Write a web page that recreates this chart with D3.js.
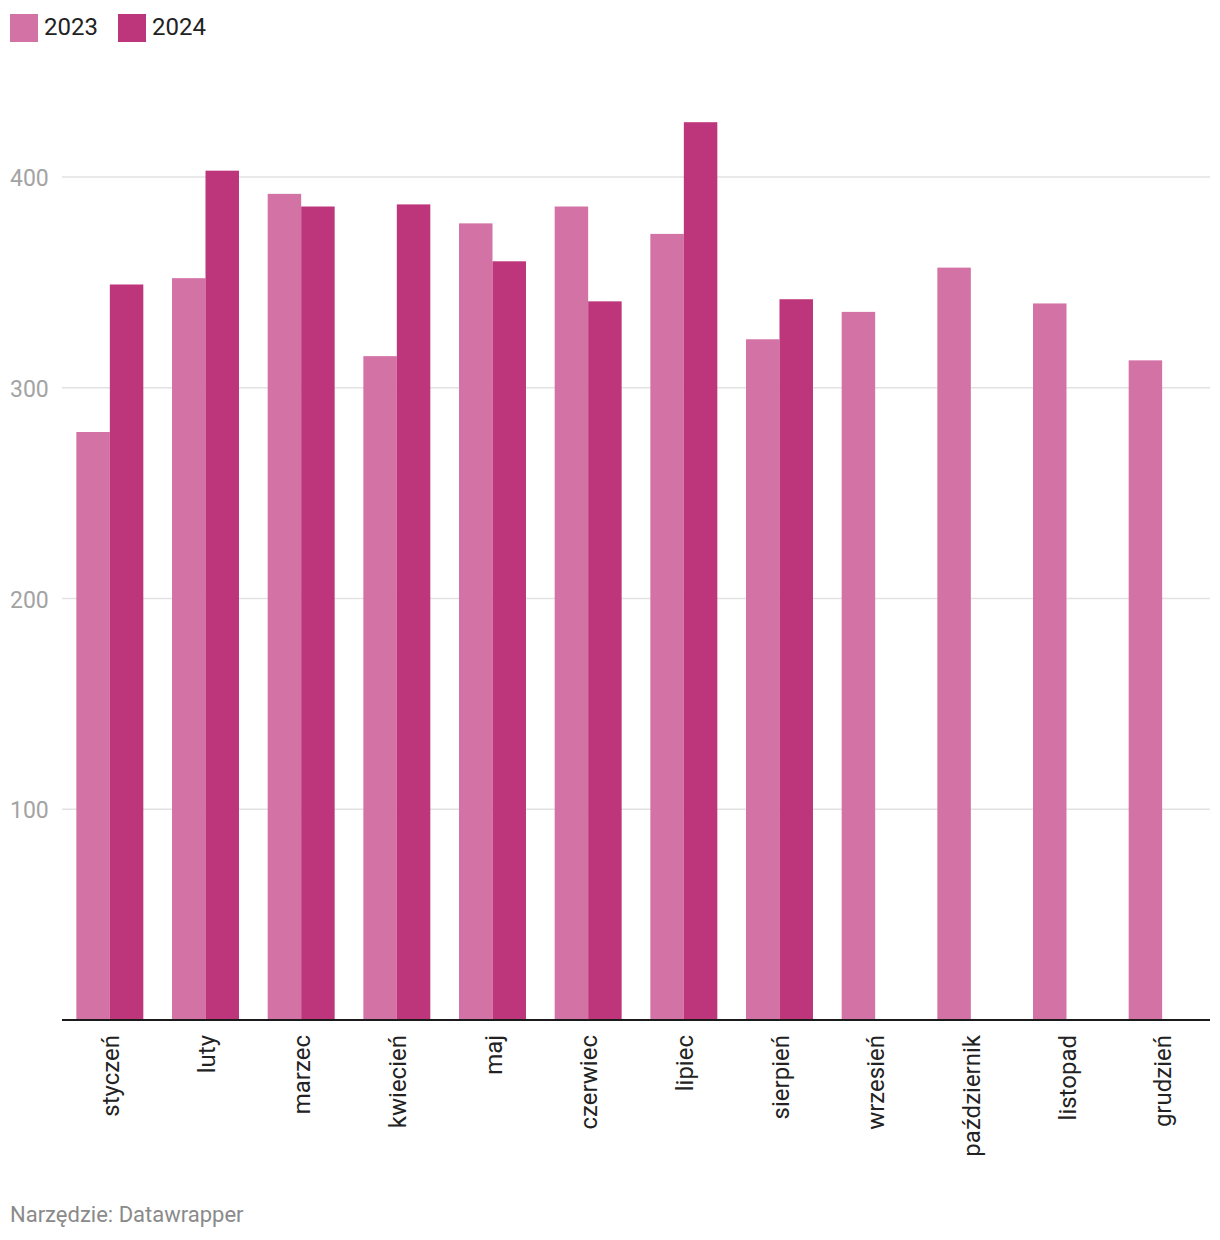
<!DOCTYPE html>
<html><head><meta charset="utf-8">
<script src="https://cdn.jsdelivr.net/npm/d3@7"></script>
<style>
body{margin:0;background:#fff;font-family:Roboto,"Noto Sans",sans-serif;}
</style></head>
<body>
<svg id="c" width="1220" height="1240"></svg>
<script>
const months = ["styczeń","luty","marzec","kwiecień","maj","czerwiec","lipiec","sierpień","wrzesień","październik","listopad","grudzień"];
const seriesNames = ["2023","2024"];
const values2023 = [279,352,392,315,378,386,373,323,336,357,340,313];
const values2024 = [349,403,386,387,360,341,426,342,null,null,null,null];
const yTicks = [100,200,300,400];
const colors = ["#d372a5","#bd367b"];

(function(){
const svg = d3.select("#c");
const left=62, right=1210, base=1020;
const x = d3.scaleBand().domain(months).range([left,right]).paddingInner(0.3).paddingOuter(0.15);
const xs = d3.scaleBand().domain(seriesNames).range([0,x.bandwidth()]);
const y = d3.scaleLinear().domain([0,400]).range([base,177]);

// gridlines
svg.append("g").selectAll("line").data(yTicks).join("line")
  .attr("x1",left).attr("x2",right)
  .attr("y1",d=>y(d)).attr("y2",d=>y(d))
  .attr("stroke","#e2e2e2").attr("stroke-width",1.5);
svg.append("g").selectAll("text").data(yTicks).join("text")
  .attr("x",10).attr("y",d=>y(d)+9)
  .attr("font-size",23).attr("fill","#a3a3a3").text(d=>d);

// bars
const data = [values2023, values2024];
data.forEach((arr,si)=>{
  svg.append("g").selectAll("rect")
    .data(months.map((m,i)=>({m,v:arr[i]})).filter(d=>d.v!=null))
    .join("rect")
    .attr("x",d=>x(d.m)+xs(seriesNames[si]))
    .attr("width",xs.bandwidth())
    .attr("y",d=>y(d.v))
    .attr("height",d=>base-y(d.v))
    .attr("fill",colors[si]);
});

// baseline
svg.append("line").attr("x1",left).attr("x2",right).attr("y1",base).attr("y2",base)
  .attr("stroke","#1a1a1a").attr("stroke-width",2);

// x labels
svg.append("g").selectAll("text").data(months).join("text")
  .attr("transform",d=>`translate(${x(d)+x.bandwidth()/2+9},${base+15}) rotate(-90)`)
  .attr("text-anchor","end")
  .attr("font-size",24).attr("fill","#222").text(d=>d);

// legend
const lg = svg.append("g");
const lx = [10,118];
seriesNames.forEach((s,i)=>{
  lg.append("rect").attr("x",lx[i]).attr("y",14).attr("width",28).attr("height",28).attr("fill",colors[i]);
  lg.append("text").attr("x",lx[i]+34).attr("y",35).attr("font-size",24).attr("fill","#222").text(s);
});

// footer
svg.append("text").attr("x",10).attr("y",1222).attr("font-size",22).attr("fill","#8a8a8a").text("Narzędzie: Datawrapper");
})();
</script>
</body></html>
